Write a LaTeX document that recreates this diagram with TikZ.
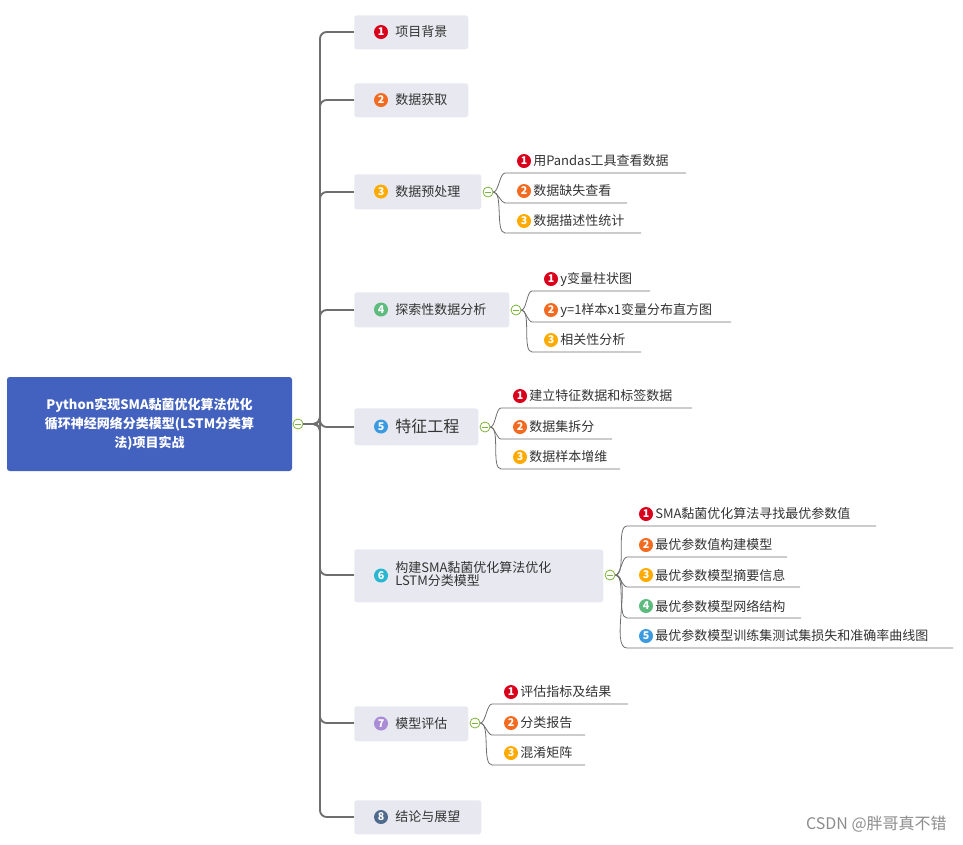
\documentclass[tikz,border=0pt]{standalone}
\usepackage{fontspec}
\setmainfont{Noto Sans CJK SC}
\begin{document}
\begin{tikzpicture}[x=0.75pt,y=-0.75pt,
  l1/.style={fill=boxgray,rounded corners=2pt,draw=none,inner sep=0},
  num/.style={circle,fill=#1,text=white,inner sep=0,minimum size=10.5pt,font=\fontsize{8}{8}\selectfont\bfseries},
  txt/.style={anchor=west,inner sep=0,text=txtc,font=\fontsize{9.75}{11}\selectfont},
  trunk/.style={draw=linec,line width=1.4pt,rounded corners=5pt},
  br/.style={draw=linec,line width=0.6pt},
  fold/.style={circle,draw=foldg,fill=white,line width=0.6pt,minimum size=7.5pt,inner sep=0,
    path picture={\draw[foldg,line width=0.6pt] ([xshift=-2pt]path picture bounding box.center)--([xshift=2pt]path picture bounding box.center);}}]
\definecolor{boxgray}{HTML}{E8E9F0}
\definecolor{linec}{HTML}{6E6E6E}
\definecolor{txtc}{HTML}{333333}
\definecolor{foldg}{HTML}{7DB33A}
\definecolor{cA}{HTML}{D9001B}
\definecolor{cB}{HTML}{F26B21}
\definecolor{cC}{HTML}{FFAA00}
\definecolor{cD}{HTML}{5DBB7E}
\definecolor{cE}{HTML}{3C9BE0}
\definecolor{cF}{HTML}{29B6D0}
\definecolor{cG}{HTML}{A98BD6}
\definecolor{cH}{HTML}{4E6A8C}
\definecolor{rootc}{HTML}{4361BF}
\useasboundingbox (0,0) rectangle (963,844);
% root
\node[fill=rootc,rounded corners=2pt,minimum width=213.75pt,minimum height=70.5pt,inner sep=0] (root) at (149.5,424) {};
\node[text=white,align=center,font=\fontsize{9.75}{14}\selectfont\bfseries] (roott) at (149.5,424) {Python实现SMA黏菌优化算法优化\\循环神经网络分类模型(LSTM分类算\\法)项目实战};
\node[fold] (rf) at (298,424) {};
% trunk
\foreach \yy in {32,100,192,310,427,575,723,817}
  \draw[trunk] (rf.east) -- (320,424) -- (320,\yy) -- (354,\yy);
% level1 boxes
\newcommand\lone[8]{% name, x1, y1, x2, y2, num, color, text
  \node[l1,minimum width={(#4-#2)*0.75pt},minimum height={(#5-#3)*0.75pt},anchor=north west] (#1) at (#2,#3) {};
  \node[num=#7] (#1n) at (381,{(#3+#5)/2}) {#6};
  \node[txt] (#1t) at (395,{(#3+#5)/2}) {#8};}
\lone{b1}{354}{15}{468}{49}{1}{cA}{项目背景}
\lone{b2}{354}{83}{468}{117}{2}{cB}{数据获取}
\lone{b3}{354}{174}{481}{209}{3}{cC}{数据预处理}
\lone{b4}{354}{292}{509}{327}{4}{cD}{探索性数据分析}
\lone{b5}{354}{408}{478}{445}{5}{cE}{\fontsize{12}{14}\selectfont 特征工程}
\lone{b6}{354}{549}{603}{602}{6}{cF}{\begin{tabular}{@{}l@{}}构建SMA黏菌优化算法优化\\[-2pt]LSTM分类模型\end{tabular}}
\lone{b7}{354}{706}{468}{741}{7}{cG}{模型评估}
\lone{b8}{354}{800}{481}{834}{8}{cH}{结论与展望}
% folds
\node[fold] (f3) at (488,192) {};
\node[fold] (f4) at (516,310) {};
\node[fold] (f5) at (485,427) {};
\node[fold] (f6) at (610,575) {};
\node[fold] (f7) at (475,723) {};
% children
\newcommand\kid[8]{% name, y, num, color, text, xstart, xend, parent
  \coordinate (#1s) at (#6,#2+12);
  \coordinate (#1e) at (#7,#2+12);
  \draw[br] (#8.east) to[out=0,in=180,looseness=0.6] (#1s) -- (#1e);
  \node[num=#4] (#1n) at (#6+19,#2) {#3};
  \node[txt] (#1t) at (#6+28,#2) {#5};}
\kid{k31}{161}{1}{cA}{用Pandas工具查看数据}{505}{686}{f3}
\kid{k32}{191}{2}{cB}{数据缺失查看}{505}{627}{f3}
\kid{k33}{221}{3}{cC}{数据描述性统计}{505}{641}{f3}
\kid{k41}{279}{1}{cA}{y变量柱状图}{532}{650}{f4}
\kid{k42}{310}{2}{cB}{y=1样本x1变量分布直方图}{532}{731}{f4}
\kid{k43}{340}{3}{cC}{相关性分析}{532}{641}{f4}
\kid{k51}{396}{1}{cA}{建立特征数据和标签数据}{501}{692}{f5}
\kid{k52}{427}{2}{cB}{数据集拆分}{501}{612}{f5}
\kid{k53}{457}{3}{cC}{数据样本增维}{501}{620}{f5}
\kid{k61}{514}{1}{cA}{SMA黏菌优化算法寻找最优参数值}{627}{876}{f6}
\kid{k62}{545}{2}{cB}{最优参数值构建模型}{627}{787}{f6}
\kid{k63}{575}{3}{cC}{最优参数模型摘要信息}{627}{800}{f6}
\kid{k64}{606}{4}{cD}{最优参数模型网络结构}{627}{801}{f6}
\kid{k65}{636}{5}{cE}{最优参数模型训练集测试集损失和准确率曲线图}{627}{953}{f6}
\kid{k71}{692}{1}{cA}{评估指标及结果}{492}{628}{f7}
\kid{k72}{723}{2}{cB}{分类报告}{492}{585}{f7}
\kid{k73}{753}{3}{cC}{混淆矩阵}{492}{585}{f7}
% watermark
\node[anchor=east,inner sep=0,text=black!45,font=\fontsize{12}{14}\selectfont] (wm) at (947,824) {CSDN @胖哥真不错};
\end{tikzpicture}
\end{document}
